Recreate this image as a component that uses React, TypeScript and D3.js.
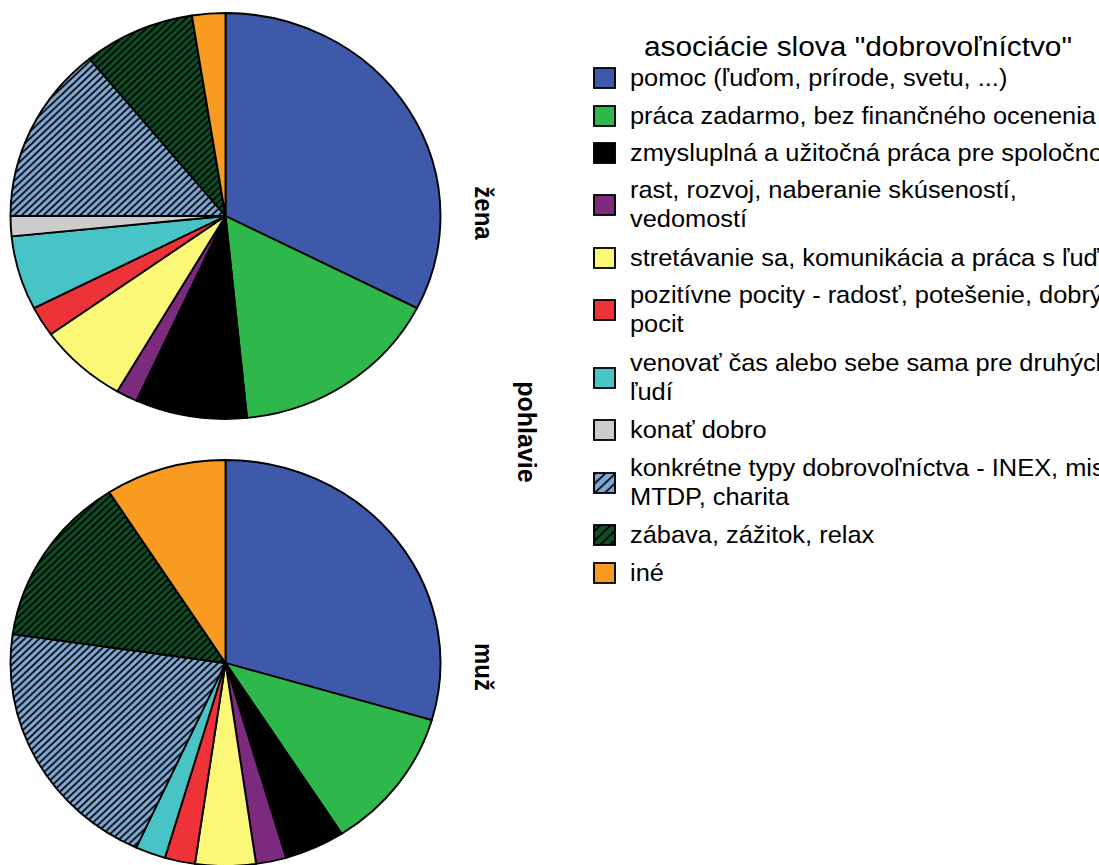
import React from 'react';
import * as d3 from 'd3';

const categories: string[][] = [
  ['pomoc (ľuďom, prírode, svetu, ...)'],
  ['práca zadarmo, bez finančného ocenenia'],
  ['zmysluplná a užitočná práca pre spoločnosť'],
  ['rast, rozvoj, naberanie skúseností,', 'vedomostí'],
  ['stretávanie sa, komunikácia a práca s ľuďmi'],
  ['pozitívne pocity - radosť, potešenie, dobrý', 'pocit'],
  ['venovať čas alebo sebe sama pre druhých', 'ľudí'],
  ['konať dobro'],
  ['konkrétne typy dobrovoľníctva - INEX, misie,', 'MTDP, charita'],
  ['zábava, zážitok, relax'],
  ['iné'],
];
const colors = ['#3F59AA', '#2EB74A', '#000000', '#7B2A7E', '#FBF877', '#EE3338', '#48C3C6', '#CCCCCC', '#80A9D6', '#0E4F27', '#F89B20'];
const hatched = [false, false, false, false, false, false, false, false, true, true, false];
const zenaValues = [32.5, 15.9, 8.4, 1.6, 6.7, 2.4, 5.9, 1.6, 14.1, 8.4, 2.5];
const muzValues = [13, 5, 2, 1, 2, 1, 1, 0, 9, 6, 4];
const panels = [
  { label: 'žena', values: zenaValues },
  { label: 'muž', values: muzValues },
];
const legendTitle = 'asociácie slova "dobrovoľníctvo"';
const facetTitle = 'pohlavie';

const SX = 215 / 203;
const R = 203;
const centersY = [216, 663];
const centerX = 225.5;
const keyCenters = [78, 116, 153, 205, 258, 310, 378, 430, 483, 535, 573];
const FONT = '"Liberation Sans", Arial, Helvetica, sans-serif';

export default function App() {
  const pie = d3.pie<number>().sort(null).value((d) => d);
  const arc = d3.arc<d3.PieArcDatum<number>>().innerRadius(0).outerRadius(R);
  const fillFor = (i: number, legend = false) =>
    hatched[i] ? `url(#hatch${legend ? 'L' : ''}${i})` : colors[i];
  return (
    <svg width={1099} height={865} style={{ position: 'absolute', left: 0, top: 0, background: '#fff' }}>
      <defs>
        {colors.map((c, i) =>
          hatched[i] ? (
            <React.Fragment key={i}>
              <pattern id={`hatch${i}`} patternUnits="userSpaceOnUse" width={6.9} height={6.9}>
                <rect width={6.9} height={6.9} fill={c} />
                <path d="M0,6.9 L6.9,0 M-1,1 L1,-1 M5.9,7.9 L7.9,5.9" stroke="#000" strokeWidth={1.7} />
              </pattern>
              <pattern id={`hatchL${i}`} patternUnits="userSpaceOnUse" width={9.5} height={9.5}>
                <rect width={9.5} height={9.5} fill={c} />
                <path d="M0,9.5 L9.5,0 M-1,1 L1,-1 M8.5,10.5 L10.5,8.5" stroke="#000" strokeWidth={1.7} />
              </pattern>
            </React.Fragment>
          ) : null
        )}
      </defs>
      <g transform={`scale(${SX},1)`}>
        {panels.map((p, pi) => (
          <g key={p.label} transform={`translate(${centerX / SX},${centersY[pi]})`}>
            {pie(p.values).map((a, i) =>
              a.value > 0 ? (
                <path key={i} d={arc(a) || ''} fill={fillFor(i)} stroke="#000" strokeWidth={1.8} strokeLinejoin="round" />
              ) : null
            )}
          </g>
        ))}
        {panels.map((p, pi) => (
          <text
            key={p.label}
            transform={`translate(${484 / SX},${centersY[pi] - (pi === 0 ? 3 : -4)}) rotate(90)`}
            textAnchor="middle"
            dominantBaseline="central"
            fontFamily={FONT}
            fontWeight="bold"
            fontSize={24}
            fill="#000"
          >
            {p.label}
          </text>
        ))}
        <text
          transform={`translate(${527 / SX},432) rotate(90)`}
          textAnchor="middle"
          dominantBaseline="central"
          fontFamily={FONT}
          fontWeight="bold"
          fontSize={25}
          fill="#000"
        >
          {facetTitle}
        </text>
        <text x={858 / SX} y={56} textAnchor="middle" fontFamily={FONT} fontSize={28.2} fill="#000">
          {legendTitle}
        </text>
        {categories.map((lines, i) => (
          <g key={i}>
            <rect
              x={594 / SX}
              y={keyCenters[i] - 10}
              width={21 / SX}
              height={20}
              fill={fillFor(i, true)}
              stroke="#000"
              strokeWidth={1.8}
            />
            {lines.map((ln, li) => (
              <text
                key={li}
                x={630 / SX}
                y={keyCenters[i] + 8 + (lines.length === 2 ? (li === 0 ? -14.5 : 14.5) : 0)}
                fontFamily={FONT}
                fontSize={24}
                fill="#000"
              >
                {ln}
              </text>
            ))}
          </g>
        ))}
      </g>
    </svg>
  );
}
